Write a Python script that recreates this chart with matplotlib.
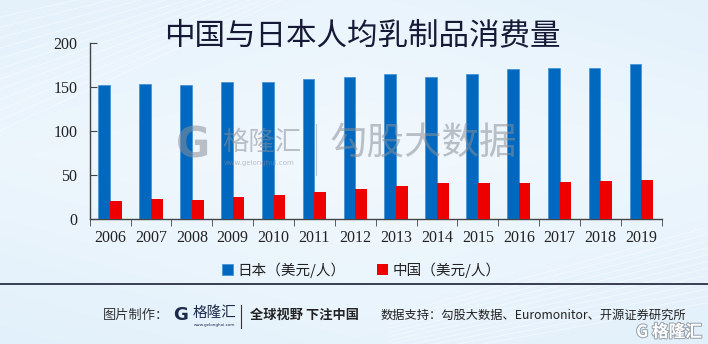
import numpy as np
import matplotlib
matplotlib.use('Agg')
import matplotlib.pyplot as plt
import matplotlib.patheffects as pe
from matplotlib.lines import Line2D

plt.rcParams['font.family'] = ['Noto Sans CJK SC', 'DejaVu Sans']

# 数据
years = ['2006', '2007', '2008', '2009', '2010', '2011', '2012',
         '2013', '2014', '2015', '2016', '2017', '2018', '2019']
japan = [152.8, 153.6, 152.4, 155.4, 156.2, 158.9, 161.6,
         164.6, 161.6, 165.4, 170.7, 172.2, 171.8, 176.4]
china = [19.9, 22.2, 21.7, 24.8, 27.4, 30.9, 33.9,
         37.4, 40.4, 40.4, 40.8, 41.9, 43.1, 44.2]
yticks = [0, 50, 100, 150, 200]
label_jp = '日本（美元/人）'
label_cn = '中国（美元/人）'

fig = plt.figure(figsize=(7.08, 3.44), dpi=100)

# 背景渐变
bg = fig.add_axes([0, 0, 1, 1], zorder=-10)
yy, xx = np.mgrid[0:1:200j, 0:1:400j]
val = 1 - 0.5 * np.abs(yy - 0.45) - 0.3 * np.abs(xx - 0.5)
c0 = np.array([0.80, 0.90, 0.97])
c1 = np.array([0.95, 0.975, 0.995])
img = c0 + (c1 - c0) * val[..., None]
bg.imshow(np.clip(img, 0, 1), aspect='auto', extent=[0, 1, 0, 1], origin='upper')
for k in range(12):
    bg.plot([0, 0.45], [0.62 + k * 0.03, 1.05 + k * 0.01], color='white', lw=0.6, alpha=0.5)
    bg.plot([0.55, 1.0], [-0.05 + k * 0.012, 0.12 + k * 0.02], color='white', lw=0.6, alpha=0.5)
bg.set_xlim(0, 1)
bg.set_ylim(0, 1)
bg.axis('off')

# 主图
ax = fig.add_axes([0.1267, 0.3642, 0.8079, 0.5099])
ax.patch.set_alpha(0)
x = np.arange(len(years))
w = 0.286
ax.bar(x - w / 2, japan, w, color='#0068BE', edgecolor='#3d8fd6', linewidth=0.5,
       label=label_jp, zorder=3)
ax.bar(x + w / 2, china, w, color='#EE0000', label=label_cn, zorder=3)

ax.set_xlim(-0.5, len(years) - 0.5)
ax.set_ylim(0, 200)
ax.set_yticks(yticks)
ax.set_xticks(x)
ax.set_xticklabels(years)
ax.set_xticks(np.arange(-0.5, len(years)), minor=True)
ax.tick_params(axis='x', which='major', length=0, pad=8)
ax.tick_params(axis='x', which='minor', length=5, direction='out', color='#444444')
ax.tick_params(axis='y', length=5, direction='in', pad=9, color='#444444')
for lab in ax.get_xticklabels() + ax.get_yticklabels():
    lab.set_fontfamily('Liberation Serif')
    lab.set_fontsize(11.5)
    lab.set_color('#222222')
for s in ['top', 'right']:
    ax.spines[s].set_visible(False)
for s in ['left', 'bottom']:
    ax.spines[s].set_color('#444444')
    ax.spines[s].set_linewidth(1.0)

# 水印
wm = dict(color='#8a9099', alpha=0.55, zorder=1)
fig.text(0.272, 0.577, 'G', fontsize=30, fontweight='bold', family='DejaVu Sans',
         ha='center', va='center', **wm)
fig.text(0.314, 0.585, '格隆汇', fontsize=19, ha='left', va='center', **wm)
fig.text(0.316, 0.525, 'www.gelonghui.com', fontsize=5, ha='left', va='center',
         family='DejaVu Sans', **wm)
fig.add_artist(Line2D([0.446, 0.446], [0.49, 0.64], color='#9aa0a8', lw=0.8, alpha=0.6))
fig.text(0.465, 0.58, '勾股大数据', fontsize=27, ha='left', va='center', **wm)

# 标题
fig.text(0.512, 0.895, '中国与日本人均乳制品消费量', fontsize=22, color='#161a36',
         ha='center', va='center', fontweight='medium')

# 图例
fig.legend(loc='center', bbox_to_anchor=(0.51, 0.215), ncol=2, frameon=False,
           handlelength=0.75, handleheight=0.75, handletextpad=0.3,
           columnspacing=2.2, prop={'family': 'Noto Sans CJK SC', 'size': 10.5},
           labelcolor='#222222')

# 分隔线
fig.add_artist(Line2D([0, 1], [0.1735, 0.1735], color='#1a2035', lw=1.2))

# 底部信息
fy = 0.084
fig.text(0.146, fy, '图片制作：', fontsize=9.5, color='#333333', ha='left', va='center')
fig.text(0.255, fy, 'G', fontsize=13, fontweight='bold', color='#1c2a4a',
         family='DejaVu Sans', ha='center', va='center')
fig.text(0.272, fy + 0.006, '格隆汇', fontsize=10.5, color='#1c2a4a', ha='left', va='center')
fig.text(0.274, fy - 0.03, 'www.gelonghui.com', fontsize=3, color='#1c2a4a',
         family='DejaVu Sans', ha='left', va='center')
fig.add_artist(Line2D([0.341, 0.341], [0.047, 0.113], color='#333333', lw=0.8))
fig.text(0.353, fy, '全球视野 下注中国', fontsize=9.5, color='#222222', fontweight='bold',
         ha='left', va='center')
fig.text(0.537, fy, '数据支持：勾股大数据、Euromonitor、开源证券研究所', fontsize=8.8,
         color='#222222', ha='left', va='center')
fig.text(0.945, 0.035, 'G 格隆汇', fontsize=12, color='white', ha='center', va='center',
         fontweight='bold',
         path_effects=[pe.withStroke(linewidth=1.5, foreground='#9aa3ad')])

plt.savefig('out.png', dpi=100)
